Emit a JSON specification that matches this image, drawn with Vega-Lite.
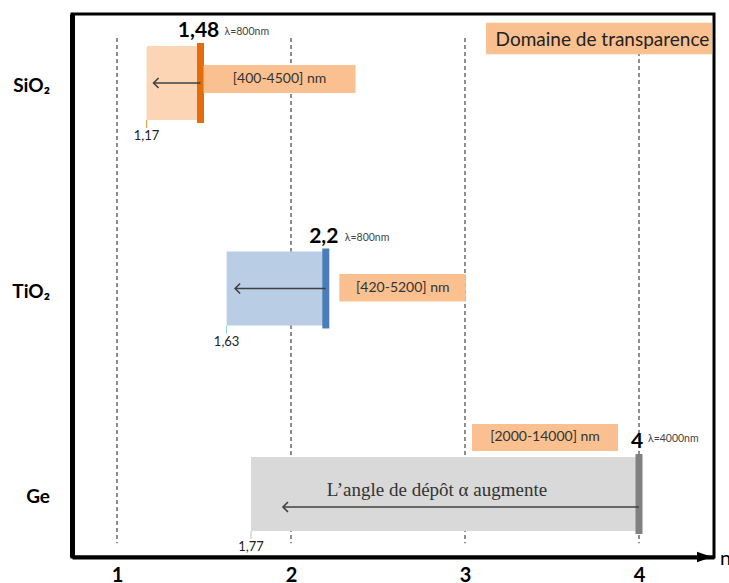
{
  "$schema": "https://vega.github.io/schema/vega-lite/v6.json",
  "width": 642,
  "height": 543,
  "autosize": {"type": "none"},
  "padding": {"left": 72, "top": 14, "right": 15, "bottom": 26},
  "background": "white",
  "config": {"view": {"stroke": "black", "strokeWidth": 3}, "text": {"font": "Lato"}},
  "data": {"values": [
    {"material": "SiO2", "label": "SiO₂", "row": 1, "nmin": 1.17, "nmax": 1.48, "nminText": "1,17", "nmaxText": "1,48", "lambda": "λ=800nm", "range": "[400-4500] nm"},
    {"material": "TiO2", "label": "TiO₂", "row": 2, "nmin": 1.63, "nmax": 2.2, "nminText": "1,63", "nmaxText": "2,2", "lambda": "λ=800nm", "range": "[420-5200] nm"},
    {"material": "Ge", "label": "Ge", "row": 3, "nmin": 1.77, "nmax": 4, "nminText": "1,77", "nmaxText": "4", "lambda": "λ=4000nm", "range": "[2000-14000] nm"}
  ]},
  "layer": [
    {
      "data": {"values": [{"n": 1}, {"n": 2}, {"n": 3}, {"n": 4}]},
      "mark": {"type": "rule", "strokeDash": [4, 3], "color": "#444444", "strokeWidth": 1.2},
      "encoding": {
        "x": {"field": "n", "type": "quantitative", "scale": {"domain": [0.7414, 4.431], "nice": false, "zero": false},
              "axis": {"values": [1, 2, 3, 4], "format": "d", "title": null, "ticks": false, "grid": false, "domainWidth": 4, "domainColor": "black", "labelFontSize": 20, "labelFontWeight": "bold", "labelColor": "black", "labelFont": "Lato", "labelPadding": 8, "labelFlush": false}},
        "y": {"datum": 0.781, "type": "quantitative", "scale": {"domain": [0.6642, 3.3066], "reverse": true, "nice": false, "zero": false},
              "axis": {"labels": false, "ticks": false, "grid": false, "title": null, "domainWidth": 5, "domainColor": "black"}},
        "y2": {"datum": 3.24}
      }
    },
    {
      "mark": {"type": "rect", "yOffset": -37, "y2Offset": 37},
      "encoding": {
        "x": {"field": "nmin", "type": "quantitative"},
        "x2": {"field": "nmax"},
        "y": {"field": "row", "type": "quantitative"},
        "y2": {"field": "row"},
        "fill": {"field": "material", "type": "nominal", "scale": {"domain": ["SiO2", "TiO2", "Ge"], "range": ["#FCD5B5", "#B9CDE5", "#D9D9D9"]}, "legend": null}
      }
    },
    {
      "mark": {"type": "rule", "strokeWidth": 7, "yOffset": -40, "y2Offset": 40},
      "encoding": {
        "x": {"field": "nmax", "type": "quantitative"},
        "y": {"field": "row", "type": "quantitative"},
        "y2": {"field": "row"},
        "stroke": {"field": "material", "type": "nominal", "scale": {"domain": ["SiO2", "TiO2", "Ge"], "range": ["#E46C0A", "#4A7EBB", "#808080"]}, "legend": null}
      }
    },
    {
      "mark": {"type": "rule", "strokeWidth": 1, "yOffset": 37, "y2Offset": 45},
      "encoding": {
        "x": {"field": "nmin", "type": "quantitative"},
        "y": {"field": "row", "type": "quantitative"},
        "y2": {"field": "row"},
        "color": {"field": "material", "type": "nominal", "scale": {"domain": ["SiO2", "TiO2", "Ge"], "range": ["#F79646", "#8EC6DF", "#BFBFBF"]}, "legend": null}
      }
    },
    {
      "mark": {"type": "text", "align": "right", "dx": -22, "dy": 3, "fontSize": 19, "fontWeight": "bold", "color": "black"},
      "encoding": {
        "x": {"datum": 0.7414, "type": "quantitative"},
        "y": {"field": "row", "type": "quantitative"},
        "text": {"field": "label"}
      }
    },
    {
      "mark": {"type": "text", "dy": 53, "fontSize": 13, "color": "#222222"},
      "encoding": {
        "x": {"field": "nmin", "type": "quantitative"},
        "y": {"field": "row", "type": "quantitative"},
        "text": {"field": "nminText"}
      }
    },
    {
      "mark": {"type": "text", "baseline": "alphabetic", "dx": -2, "dy": -46, "fontSize": 21, "fontWeight": "bold", "color": "black"},
      "encoding": {
        "x": {"field": "nmax", "type": "quantitative"},
        "y": {"field": "row", "type": "quantitative"},
        "text": {"field": "nmaxText"}
      }
    },
    {
      "transform": [{"filter": "datum.material === 'SiO2'"}],
      "layer": [
        {"mark": {"type": "rect", "color": "#FAC090", "xOffset": 3, "x2Offset": 155, "yOffset": -18, "y2Offset": 10},
         "encoding": {"x": {"field": "nmax", "type": "quantitative"}, "x2": {"field": "nmax"}, "y": {"field": "row", "type": "quantitative"}, "y2": {"field": "row"}}},
        {"mark": {"type": "text", "dx": 79, "dy": -4, "fontSize": 14, "color": "#333333"},
         "encoding": {"x": {"field": "nmax", "type": "quantitative"}, "y": {"field": "row", "type": "quantitative"}, "text": {"field": "range"}}},
        {"mark": {"type": "text", "align": "left", "dx": 24, "dy": -51, "fontSize": 10.5, "color": "#444444"},
         "encoding": {"x": {"field": "nmax", "type": "quantitative"}, "y": {"field": "row", "type": "quantitative"}, "text": {"field": "lambda"}}},
        {"mark": {"type": "rule", "color": "#404040", "strokeWidth": 1.6, "x2Offset": 7},
         "encoding": {"x": {"field": "nmax", "type": "quantitative"}, "x2": {"field": "nmin"}, "y": {"field": "row", "type": "quantitative"}}},
        {"mark": {"type": "point", "shape": "M1,-1L0,0L1,1", "size": 100, "filled": false, "opacity": 1, "strokeWidth": 1.6, "color": "#404040", "xOffset": 7},
         "encoding": {"x": {"field": "nmin", "type": "quantitative"}, "y": {"field": "row", "type": "quantitative"}}}
      ]
    },
    {
      "transform": [{"filter": "datum.material === 'TiO2'"}],
      "layer": [
        {"mark": {"type": "rect", "color": "#FAC090", "xOffset": 13.5, "x2Offset": 140, "yOffset": -14.5, "y2Offset": 13},
         "encoding": {"x": {"field": "nmax", "type": "quantitative"}, "x2": {"field": "nmax"}, "y": {"field": "row", "type": "quantitative"}, "y2": {"field": "row"}}},
        {"mark": {"type": "text", "dx": 77, "dy": -1, "fontSize": 14, "color": "#333333"},
         "encoding": {"x": {"field": "nmax", "type": "quantitative"}, "y": {"field": "row", "type": "quantitative"}, "text": {"field": "range"}}},
        {"mark": {"type": "text", "align": "left", "dx": 19, "dy": -51, "fontSize": 10.5, "color": "#444444"},
         "encoding": {"x": {"field": "nmax", "type": "quantitative"}, "y": {"field": "row", "type": "quantitative"}, "text": {"field": "lambda"}}},
        {"mark": {"type": "rule", "color": "#404040", "strokeWidth": 1.6, "x2Offset": 8.5},
         "encoding": {"x": {"field": "nmax", "type": "quantitative"}, "x2": {"field": "nmin"}, "y": {"field": "row", "type": "quantitative"}}},
        {"mark": {"type": "point", "shape": "M1,-1L0,0L1,1", "size": 100, "filled": false, "opacity": 1, "strokeWidth": 1.6, "color": "#404040", "xOffset": 8.5},
         "encoding": {"x": {"field": "nmin", "type": "quantitative"}, "y": {"field": "row", "type": "quantitative"}}}
      ]
    },
    {
      "transform": [{"filter": "datum.material === 'Ge'"}],
      "layer": [
        {"mark": {"type": "rect", "color": "#FAC090", "xOffset": -167, "x2Offset": -21, "yOffset": -70, "y2Offset": -43},
         "encoding": {"x": {"field": "nmax", "type": "quantitative"}, "x2": {"field": "nmax"}, "y": {"field": "row", "type": "quantitative"}, "y2": {"field": "row"}}},
        {"mark": {"type": "text", "dx": -94, "dy": -56.5, "fontSize": 14, "color": "#333333"},
         "encoding": {"x": {"field": "nmax", "type": "quantitative"}, "y": {"field": "row", "type": "quantitative"}, "text": {"field": "range"}}},
        {"mark": {"type": "text", "align": "left", "dx": 9, "dy": -55, "fontSize": 10.5, "color": "#444444"},
         "encoding": {"x": {"field": "nmax", "type": "quantitative"}, "y": {"field": "row", "type": "quantitative"}, "text": {"field": "lambda"}}},
        {"mark": {"type": "rule", "color": "#404040", "strokeWidth": 1.6, "x2Offset": 32, "yOffset": 13},
         "encoding": {"x": {"field": "nmax", "type": "quantitative"}, "x2": {"field": "nmin"}, "y": {"field": "row", "type": "quantitative"}}},
        {"mark": {"type": "point", "shape": "M1,-1L0,0L1,1", "size": 100, "filled": false, "opacity": 1, "strokeWidth": 1.6, "color": "#404040", "xOffset": 32, "yOffset": 13},
         "encoding": {"x": {"field": "nmin", "type": "quantitative"}, "y": {"field": "row", "type": "quantitative"}}},
        {"mark": {"type": "text", "font": "Liberation Serif", "dx": -202, "dy": -4, "fontSize": 19, "color": "#333333"},
         "encoding": {"x": {"field": "nmax", "type": "quantitative"}, "y": {"field": "row", "type": "quantitative"}, "text": {"value": "L’angle de dépôt α augmente"}}}
      ]
    },
    {
      "data": {"values": [{"legend": "Domaine de transparence"}]},
      "layer": [
        {"mark": {"type": "rect", "color": "#FAC090"},
         "encoding": {"x": {"datum": 3.1207, "type": "quantitative"}, "x2": {"datum": 4.42}, "y": {"datum": 0.7065, "type": "quantitative"}, "y2": {"datum": 0.8603}}},
        {"mark": {"type": "text", "fontSize": 19, "color": "#222222"},
         "encoding": {"x": {"datum": 3.79, "type": "quantitative"}, "y": {"datum": 0.7907, "type": "quantitative"}, "text": {"field": "legend"}}}
      ]
    },
    {
      "data": {"values": [{"axisLabel": "n"}]},
      "layer": [
        {"mark": {"type": "point", "shape": "M-1,-0.7L1,0L-1,0.7Z", "size": 225, "filled": true, "opacity": 1, "color": "black", "xOffset": -9.5},
         "encoding": {"x": {"datum": 4.431, "type": "quantitative"}, "y": {"datum": 3.3066, "type": "quantitative"}}},
        {"mark": {"type": "text", "align": "left", "dx": 6, "dy": 2, "fontSize": 20, "color": "black"},
         "encoding": {"x": {"datum": 4.431, "type": "quantitative"}, "y": {"datum": 3.3066, "type": "quantitative"}, "text": {"field": "axisLabel"}}}
      ]
    }
  ]
}
